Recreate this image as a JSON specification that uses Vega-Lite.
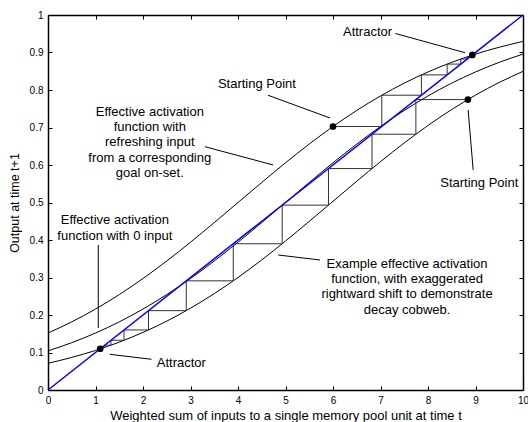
{
  "$schema": "https://vega.github.io/schema/vega-lite/v6.json",
  "width": 475,
  "height": 375,
  "autosize": {"type": "none"},
  "padding": {"left": 48, "top": 15, "right": 5, "bottom": 32},
  "background": "white",
  "config": {
    "font": "Liberation Sans",
    "view": {"stroke": null},
    "axis": {
      "grid": false,
      "domainColor": "black",
      "domainWidth": 1.5,
      "tickColor": "black",
      "tickSize": -4,
      "tickWidth": 1,
      "labelColor": "black",
      "labelFontSize": 10,
      "labelFlush": false,
      "labelOverlap": false,
      "labelBound": false,
      "titleColor": "black",
      "titleFontSize": 12,
      "titleFontWeight": "normal"
    }
  },
  "datasets": {
    "curves": [
      {"curve": "top", "x": 0, "y": 0.1519}, {"curve": "top", "x": 0.5, "y": 0.1817}, {"curve": "top", "x": 1, "y": 0.2159}, {"curve": "top", "x": 1.5, "y": 0.2545}, {"curve": "top", "x": 2, "y": 0.2973}, {"curve": "top", "x": 2.5, "y": 0.3441}, {"curve": "top", "x": 3, "y": 0.3941}, {"curve": "top", "x": 3.5, "y": 0.4465}, {"curve": "top", "x": 4, "y": 0.5}, {"curve": "top", "x": 4.5, "y": 0.5535}, {"curve": "top", "x": 5, "y": 0.6059}, {"curve": "top", "x": 5.5, "y": 0.6559}, {"curve": "top", "x": 6, "y": 0.7027}, {"curve": "top", "x": 6.5, "y": 0.7455}, {"curve": "top", "x": 7, "y": 0.7841}, {"curve": "top", "x": 7.5, "y": 0.8183}, {"curve": "top", "x": 8, "y": 0.8481}, {"curve": "top", "x": 8.5, "y": 0.8738}, {"curve": "top", "x": 9, "y": 0.8957}, {"curve": "top", "x": 9.5, "y": 0.9141}, {"curve": "top", "x": 10, "y": 0.9296},
      {"curve": "mid", "x": 0, "y": 0.1043}, {"curve": "mid", "x": 0.5, "y": 0.1262}, {"curve": "mid", "x": 1, "y": 0.1519}, {"curve": "mid", "x": 1.5, "y": 0.1817}, {"curve": "mid", "x": 2, "y": 0.2159}, {"curve": "mid", "x": 2.5, "y": 0.2545}, {"curve": "mid", "x": 3, "y": 0.2973}, {"curve": "mid", "x": 3.5, "y": 0.3441}, {"curve": "mid", "x": 4, "y": 0.3941}, {"curve": "mid", "x": 4.5, "y": 0.4465}, {"curve": "mid", "x": 5, "y": 0.5}, {"curve": "mid", "x": 5.5, "y": 0.5535}, {"curve": "mid", "x": 6, "y": 0.6059}, {"curve": "mid", "x": 6.5, "y": 0.6559}, {"curve": "mid", "x": 7, "y": 0.7027}, {"curve": "mid", "x": 7.5, "y": 0.7455}, {"curve": "mid", "x": 8, "y": 0.7841}, {"curve": "mid", "x": 8.5, "y": 0.8183}, {"curve": "mid", "x": 9, "y": 0.8481}, {"curve": "mid", "x": 9.5, "y": 0.8738}, {"curve": "mid", "x": 10, "y": 0.8957},
      {"curve": "bot", "x": 0, "y": 0.0712}, {"curve": "bot", "x": 0.5, "y": 0.0869}, {"curve": "bot", "x": 1, "y": 0.1055}, {"curve": "bot", "x": 1.5, "y": 0.1276}, {"curve": "bot", "x": 2, "y": 0.1536}, {"curve": "bot", "x": 2.5, "y": 0.1836}, {"curve": "bot", "x": 3, "y": 0.2181}, {"curve": "bot", "x": 3.5, "y": 0.257}, {"curve": "bot", "x": 4, "y": 0.3}, {"curve": "bot", "x": 4.5, "y": 0.347}, {"curve": "bot", "x": 5, "y": 0.3972}, {"curve": "bot", "x": 5.5, "y": 0.4497}, {"curve": "bot", "x": 6, "y": 0.5032}, {"curve": "bot", "x": 6.5, "y": 0.5567}, {"curve": "bot", "x": 7, "y": 0.609}, {"curve": "bot", "x": 7.5, "y": 0.6588}, {"curve": "bot", "x": 8, "y": 0.7054}, {"curve": "bot", "x": 8.5, "y": 0.748}, {"curve": "bot", "x": 9, "y": 0.7863}, {"curve": "bot", "x": 9.5, "y": 0.8202}, {"curve": "bot", "x": 10, "y": 0.8498}
    ],
    "cobweb": [
      {"web": "top", "i": 0, "x": 6, "y": 0.7027}, {"web": "top", "i": 1, "x": 7.027, "y": 0.7027}, {"web": "top", "i": 2, "x": 7.027, "y": 0.7861}, {"web": "top", "i": 3, "x": 7.861, "y": 0.7861}, {"web": "top", "i": 4, "x": 7.861, "y": 0.8403}, {"web": "top", "i": 5, "x": 8.403, "y": 0.8403}, {"web": "top", "i": 6, "x": 8.403, "y": 0.8691}, {"web": "top", "i": 7, "x": 8.691, "y": 0.8691}, {"web": "top", "i": 8, "x": 8.691, "y": 0.8826}, {"web": "top", "i": 9, "x": 8.826, "y": 0.8826}, {"web": "top", "i": 10, "x": 8.826, "y": 0.8885}, {"web": "top", "i": 11, "x": 8.885, "y": 0.8885}, {"web": "top", "i": 12, "x": 8.885, "y": 0.8909}, {"web": "top", "i": 13, "x": 8.909, "y": 0.8909},
      {"web": "bot", "i": 0, "x": 8.84, "y": 0.7745}, {"web": "bot", "i": 1, "x": 7.745, "y": 0.7745}, {"web": "bot", "i": 2, "x": 7.745, "y": 0.6821}, {"web": "bot", "i": 3, "x": 6.821, "y": 0.6821}, {"web": "bot", "i": 4, "x": 6.821, "y": 0.5905}, {"web": "bot", "i": 5, "x": 5.905, "y": 0.5905}, {"web": "bot", "i": 6, "x": 5.905, "y": 0.493}, {"web": "bot", "i": 7, "x": 4.93, "y": 0.493}, {"web": "bot", "i": 8, "x": 4.93, "y": 0.39}, {"web": "bot", "i": 9, "x": 3.9, "y": 0.39}, {"web": "bot", "i": 10, "x": 3.9, "y": 0.2911}, {"web": "bot", "i": 11, "x": 2.911, "y": 0.2911}, {"web": "bot", "i": 12, "x": 2.911, "y": 0.2116}, {"web": "bot", "i": 13, "x": 2.116, "y": 0.2116}, {"web": "bot", "i": 14, "x": 2.116, "y": 0.1601}, {"web": "bot", "i": 15, "x": 1.601, "y": 0.1601}, {"web": "bot", "i": 16, "x": 1.601, "y": 0.1326}, {"web": "bot", "i": 17, "x": 1.326, "y": 0.1326}, {"web": "bot", "i": 18, "x": 1.326, "y": 0.1195}, {"web": "bot", "i": 19, "x": 1.195, "y": 0.1195}, {"web": "bot", "i": 20, "x": 1.195, "y": 0.1137}, {"web": "bot", "i": 21, "x": 1.137, "y": 0.1137}, {"web": "bot", "i": 22, "x": 1.137, "y": 0.1112}, {"web": "bot", "i": 23, "x": 1.112, "y": 0.1112}
    ],
    "diag": [{"x": 0, "y": 0}, {"x": 10, "y": 1}],
    "points": [
      {"name": "start top", "x": 6, "y": 0.7027},
      {"name": "start bottom", "x": 8.84, "y": 0.7745},
      {"name": "attractor top", "x": 8.934, "y": 0.8934},
      {"name": "attractor bottom", "x": 1.1, "y": 0.11}
    ],
    "leaders": [
      {"x": 7.313, "y": 0.9507, "x2": 8.78, "y2": 0.8995},
      {"x": 4.63, "y": 0.7861, "x2": 5.937, "y2": 0.7253},
      {"x": 8.845, "y": 0.7467, "x2": 8.951, "y2": 0.5867},
      {"x": 3.303, "y": 0.6488, "x2": 4.742, "y2": 0.6},
      {"x": 1.058, "y": 0.3867, "x2": 1.058, "y2": 0.1653},
      {"x": 1.3, "y": 0.0952, "x2": 2.179, "y2": 0.0819},
      {"x": 4.847, "y": 0.36, "x2": 5.726, "y2": 0.3467}
    ],
    "labels": [
      {"label": "Attractor", "x": 6.727, "y": 0.9547},
      {"label": "Starting Point", "x": 4.398, "y": 0.816},
      {"label": "Starting Point", "x": 9.079, "y": 0.552},
      {"label": "Effective activation", "x": 2.143, "y": 0.7421},
      {"label": "function with", "x": 2.143, "y": 0.7021},
      {"label": "refreshing input", "x": 2.143, "y": 0.6605},
      {"label": "from a corresponding", "x": 2.143, "y": 0.6179},
      {"label": "goal on-set.", "x": 2.143, "y": 0.5779},
      {"label": "Effective activation", "x": 1.406, "y": 0.4533},
      {"label": "function with 0 input", "x": 1.406, "y": 0.4107},
      {"label": "Example effective activation", "x": 7.559, "y": 0.336},
      {"label": "function, with exaggerated", "x": 7.559, "y": 0.296},
      {"label": "rightward shift to demonstrate", "x": 7.559, "y": 0.2552},
      {"label": "decay cobweb.", "x": 7.559, "y": 0.2133},
      {"label": "Attractor", "x": 2.807, "y": 0.0712}
    ]
  },
  "layer": [
    {
      "data": {"name": "curves"},
      "mark": {"type": "line", "color": "black", "strokeWidth": 1, "interpolate": "monotone"},
      "encoding": {
        "x": {"field": "x", "type": "quantitative", "scale": {"domain": [0, 10], "nice": false},
              "axis": {"orient": "bottom", "values": [0, 1, 2, 3, 4, 5, 6, 7, 8, 9, 10], "labelPadding": 9, "title": "Weighted sum of inputs to a single memory pool unit at time t", "titleFontSize": 13, "titlePadding": 4}},
        "y": {"field": "y", "type": "quantitative", "scale": {"domain": [0, 1], "nice": false},
              "axis": {"orient": "left", "values": [0, 0.1, 0.2, 0.3, 0.4, 0.5, 0.6, 0.7, 0.8, 0.9, 1], "format": "~g", "labelPadding": 9, "title": "Output at time t+1", "titleFontSize": 12.5, "titlePadding": 8}},
        "detail": {"field": "curve"}
      }
    },
    {
      "data": {"name": "cobweb"},
      "mark": {"type": "line", "color": "#333333", "strokeWidth": 1},
      "encoding": {
        "x": {"field": "x", "type": "quantitative", "axis": null},
        "y": {"field": "y", "type": "quantitative", "axis": null},
        "detail": {"field": "web"},
        "order": {"field": "i", "type": "quantitative"}
      }
    },
    {
      "data": {"name": "diag"},
      "mark": {"type": "line", "color": "#0000ff", "strokeWidth": 1.5},
      "encoding": {
        "x": {"field": "x", "type": "quantitative",
              "axis": {"orient": "top", "values": [0, 1, 2, 3, 4, 5, 6, 7, 8, 9, 10], "labels": false, "title": null}},
        "y": {"field": "y", "type": "quantitative",
              "axis": {"orient": "right", "values": [0, 0.1, 0.2, 0.3, 0.4, 0.5, 0.6, 0.7, 0.8, 0.9, 1], "labels": false, "title": null}}
      }
    },
    {
      "data": {"name": "leaders"},
      "mark": {"type": "rule", "color": "black", "strokeWidth": 1},
      "encoding": {
        "x": {"field": "x", "type": "quantitative", "axis": null},
        "y": {"field": "y", "type": "quantitative", "axis": null},
        "x2": {"field": "x2"},
        "y2": {"field": "y2"}
      }
    },
    {
      "data": {"name": "points"},
      "mark": {"type": "circle", "color": "black", "opacity": 1, "size": 45},
      "encoding": {
        "x": {"field": "x", "type": "quantitative", "axis": null},
        "y": {"field": "y", "type": "quantitative", "axis": null}
      }
    },
    {
      "data": {"name": "labels"},
      "mark": {"type": "text", "color": "black", "fontSize": 13, "align": "center", "baseline": "middle"},
      "encoding": {
        "x": {"field": "x", "type": "quantitative", "axis": null},
        "y": {"field": "y", "type": "quantitative", "axis": null},
        "text": {"field": "label"}
      }
    }
  ],
  "resolve": {"axis": {"x": "independent", "y": "independent"}}
}
